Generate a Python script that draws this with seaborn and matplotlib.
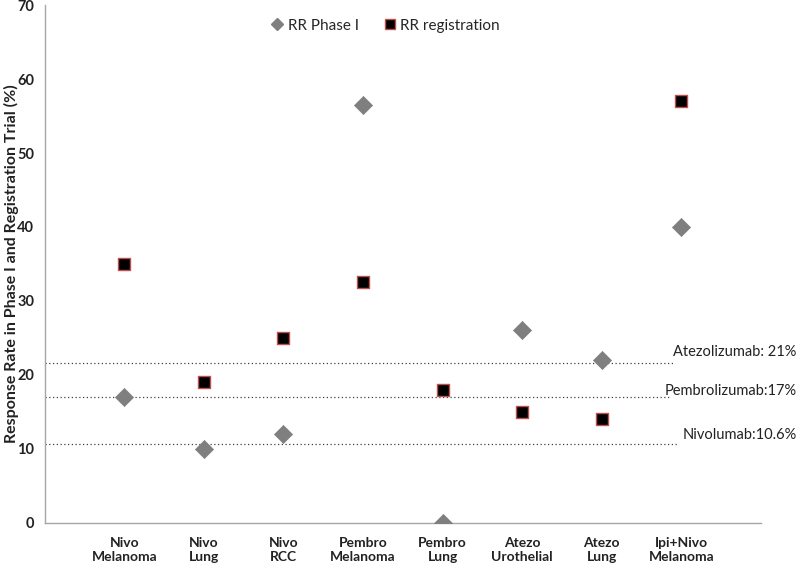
import pandas as pd
import matplotlib
matplotlib.use('Agg')
import matplotlib.pyplot as plt
import matplotlib.transforms as mtransforms
from matplotlib.lines import Line2D
import seaborn as sns

# Data
trials = ['Nivo\nMelanoma', 'Nivo\nLung', 'Nivo\nRCC', 'Pembro\nMelanoma',
          'Pembro\nLung', 'Atezo\nUrothelial', 'Atezo\nLung', 'Ipi+Nivo\nMelanoma']
rr_phase1 = [17, 10, 12, 56.5, 0, 26, 22, 40]
rr_registration = [35, 19, 25, 32.5, 18, 15, 14, 57]

ref_labels = ['Atezolizumab: 21%', 'Pembrolizumab:17%', 'Nivolumab:10.6%']
ref_values = [21.6, 17, 10.7]

df = pd.DataFrame({'trial': trials, 'phase1': rr_phase1, 'reg': rr_registration})

sns.set_style('white')
plt.rcParams['font.family'] = ['Lato', 'DejaVu Sans']

fig = plt.figure(figsize=(8, 5.67), dpi=100)
ax = fig.add_axes([0.056, 0.078, 0.895, 0.913])

grey = '#a6a6a6'

# reference lines
line_ends = [6.9, 6.84, 6.95]
text_offsets = [1.5, 0.8, 1.2]
trans = mtransforms.blended_transform_factory(ax.transAxes, ax.transData)
for lab, v, xe, off in zip(ref_labels, ref_values, line_ends, text_offsets):
    ax.hlines(v, -1, xe, colors='#404040', linestyles=(0, (1, 2)), linewidth=0.9, zorder=1)
    ax.text(1.05, v + off, lab, transform=trans, ha='right', va='center',
            fontsize=10.5, color='#222222', clip_on=False)

sns.scatterplot(data=df, x='trial', y='phase1', marker='D', s=85, color='#7f7f7f',
                edgecolor='#7f7f7f', linewidth=0.5, ax=ax, zorder=3)
sns.scatterplot(data=df, x='trial', y='reg', marker='s', s=85, color='black',
                edgecolor='#c0504d', linewidth=1.0, ax=ax, zorder=3)

ax.set_xlim(-1, 8)
ax.set_ylim(0, 70)
ax.set_yticks(range(0, 71, 10))
ax.set_xticks(range(len(trials)))
ax.set_xticklabels(trials, fontweight='bold', fontsize=10, color='#222222',
                   linespacing=1.2)
ax.set_xticks([8], minor=True)
for lab in ax.get_yticklabels():
    lab.set_fontweight('bold')
    lab.set_fontsize(10.5)
    lab.set_color('#222222')
ax.tick_params(axis='both', which='both', direction='out', length=4, width=1, color=grey)
ax.tick_params(axis='x', pad=6)
ax.set_xlabel('')
ax.set_ylabel('Response Rate in Phase I and Registration Trial (%)', fontweight='bold',
              fontsize=11.5, color='#222222')
ax.yaxis.set_label_coords(-0.036, 0.5)

for side in ['top', 'right']:
    ax.spines[side].set_visible(False)
for side in ['left', 'bottom']:
    ax.spines[side].set_color(grey)
    ax.spines[side].set_linewidth(1)

handles = [Line2D([], [], marker='D', linestyle='', color='#7f7f7f', markersize=6),
           Line2D([], [], marker='s', linestyle='', color='black',
                  markeredgecolor='#c0504d', markersize=7)]
ax.legend(handles, ['RR Phase I', 'RR registration'], loc='center', ncol=2,
          bbox_to_anchor=(0.475, 0.96), frameon=False, fontsize=11,
          handletextpad=0.2, columnspacing=1.5, handlelength=1.0)

fig.savefig('out.png', dpi=100)
